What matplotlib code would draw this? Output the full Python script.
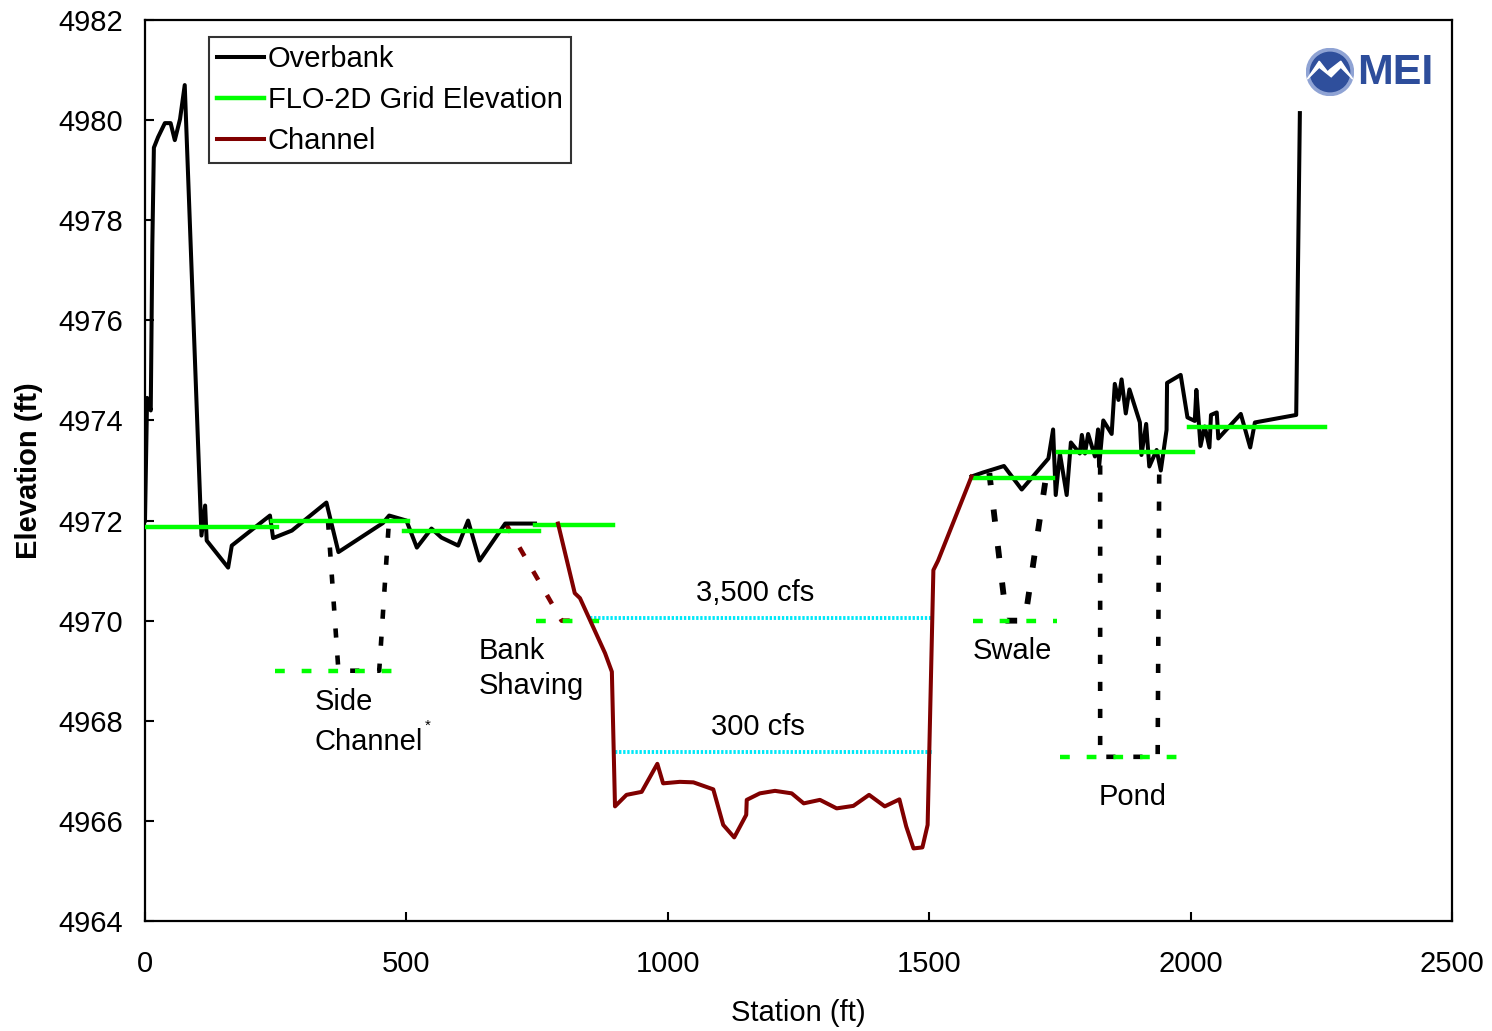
import numpy as np
import matplotlib
matplotlib.use('Agg')
import matplotlib.pyplot as plt
from matplotlib.patches import Circle, Polygon

plt.rcParams['font.family'] = ['Liberation Sans', 'DejaVu Sans']

# overbank (left of channel)
ob_left_st = [0, 4, 11, 14, 17, 25, 38, 49, 57, 67, 76, 108, 115, 118, 159, 166, 239, 245,
              281, 347, 370, 455, 467, 500, 520, 548, 567, 599, 618, 640, 689, 746]
ob_left_el = [4972.0, 4974.45, 4974.2, 4977.5, 4979.45, 4979.66, 4979.94, 4979.94, 4979.6, 4980.02,
              4980.7, 4971.7, 4972.3, 4971.6, 4971.06, 4971.5, 4972.1, 4971.65,
              4971.8, 4972.36, 4971.37, 4971.95, 4972.1, 4972.0, 4971.46, 4971.84, 4971.66,
              4971.5, 4972.0, 4971.2, 4971.94, 4971.94]

# overbank (right of channel)
ob_right_st = [1581, 1603, 1643, 1677, 1728, 1737, 1742, 1750, 1763, 1771, 1788, 1792, 1798, 1804,
               1817, 1823, 1825, 1833, 1849, 1855, 1862, 1868, 1876, 1883, 1903, 1906, 1915,
               1921, 1935, 1943, 1954, 1955, 1981, 1994, 2008, 2011, 2019, 2027, 2036, 2039,
               2050, 2053, 2096, 2114, 2123, 2202, 2209]
ob_right_el = [4972.88, 4972.96, 4973.09, 4972.62, 4973.24, 4973.82, 4972.51, 4973.34, 4972.51,
               4973.56, 4973.34, 4973.71, 4973.34, 4973.73, 4973.28, 4973.82, 4973.08, 4974.0,
               4973.73, 4974.73, 4974.41, 4974.82, 4974.14, 4974.62, 4973.96, 4973.31, 4973.93,
               4973.08, 4973.41, 4973.0, 4973.81, 4974.75, 4974.91, 4974.06, 4973.99, 4974.61,
               4973.49, 4973.88, 4973.46, 4974.11, 4974.16, 4973.64, 4974.13, 4973.46, 4973.96,
               4974.11, 4980.14]

# main channel
ch_st = [790, 822, 832, 880, 893, 899, 921, 950, 980, 991, 1023, 1049, 1087, 1106, 1127, 1150,
         1151, 1176, 1205, 1237, 1260, 1291, 1323, 1355, 1385, 1415, 1443, 1456, 1470, 1487,
         1497, 1508, 1517, 1581]
ch_el = [4971.94, 4970.55, 4970.45, 4969.35, 4968.98, 4966.29, 4966.52, 4966.58, 4967.14,
         4966.75, 4966.78, 4966.77, 4966.63, 4965.92, 4965.67, 4966.12, 4966.42, 4966.55,
         4966.6, 4966.55, 4966.35, 4966.42, 4966.25, 4966.3, 4966.52, 4966.29, 4966.43,
         4965.89, 4965.45, 4965.47, 4965.92, 4971.01, 4971.2, 4972.88]

# FLO-2D grid elevations
grid_x0 = [0, 242, 495, 746, 1581, 1747, 1997]
grid_x1 = [252, 504, 754, 895, 1736, 2005, 2257]
grid_z = [4971.88, 4972.0, 4971.79, 4971.91, 4972.86, 4973.36, 4973.86]

# modified grid elevations (dashed)
mod_x0 = [249, 748, 1584, 1750]
mod_x1 = [478, 874, 1744, 1981]
mod_z = [4969.0, 4970.0, 4970.0, 4967.28]

# side channel / swale / pond outlines
side_st = [350, 370, 448, 467]
side_el = [4972.0, 4969.0, 4969.0, 4972.05]
swale_st = [1615, 1648, 1683, 1728]
swale_el = [4972.95, 4970.0, 4970.0, 4973.2]
pond_st = [1827, 1827, 1937, 1940]
pond_el = [4973.1, 4967.28, 4967.28, 4973.0]
shave_st = [690, 797, 842]
shave_el = [4971.94, 4970.0, 4970.0]

# water surfaces
ws_x0 = [851, 899]
ws_x1 = [1505, 1505]
ws_z = [4970.05, 4967.38]
ws_lab = ['3,500 cfs', '300 cfs']
ws_lab_x = [1167, 1172]

fig = plt.figure(figsize=(14.92, 10.31), dpi=100)
ax = fig.add_axes([145/1492, 1 - 921/1031, 1307/1492, 901/1031])

fs = 21
green = '#00ff00'
red = '#800000'

ax.plot(ob_left_st, ob_left_el, color='black', lw=2.9, zorder=3, label='Overbank')
ax.plot(ob_right_st, ob_right_el, color='black', lw=2.9, zorder=3)

for i in range(len(grid_z)):
    ax.plot([grid_x0[i], grid_x1[i]], [grid_z[i], grid_z[i]], color=green, lw=3.2, zorder=4,
            label='FLO-2D Grid Elevation' if i == 0 else None)

ax.plot(ch_st, ch_el, color=red, lw=2.9, zorder=5, label='Channel')

ax.plot(side_st, side_el, color='black', lw=3.3, ls=(0, (2.0, 3.9)), zorder=2)
ax.plot(pond_st, pond_el, color='black', lw=3.3, ls=(0, (2.0, 3.9)), zorder=2)
ax.plot(swale_st, swale_el, color='black', lw=4.2, ls=(0, (2.1, 4.2)), zorder=2)
ax.plot(shave_st, shave_el, color=red, lw=3.3, ls=(0, (2.2, 3.8)), zorder=2)

for i in range(len(mod_z)):
    ax.plot([mod_x0[i], mod_x1[i]], [mod_z[i], mod_z[i]], color=green, lw=3.2,
            ls=(0, (2.2, 3.8)), zorder=4)

for i in range(len(ws_z)):
    ax.plot([ws_x0[i], ws_x1[i]], [ws_z[i], ws_z[i]], color='#00e8f8', lw=2.8,
            ls=(0, (0.6, 0.45)), zorder=3)
    ax.text(ws_lab_x[i], ws_z[i] + 0.5, ws_lab[i], fontsize=fs, ha='center', va='center')

ax.text(325, 4968.38, 'Side', fontsize=fs, va='center')
ax.text(325, 4967.58, 'Channel', fontsize=fs, va='center')
ax.text(535, 4967.9, '*', fontsize=11, va='center')
ax.text(639, 4969.4, 'Bank', fontsize=fs, va='center')
ax.text(639, 4968.7, 'Shaving', fontsize=fs, va='center')
ax.text(1584, 4969.4, 'Swale', fontsize=fs, va='center')
ax.text(1825, 4966.48, 'Pond', fontsize=fs, va='center')

ax.set_xlim(0, 2500)
ax.set_ylim(4964, 4982)
ax.set_xticks(np.arange(0, 2501, 500))
ax.set_yticks(np.arange(4964, 4983, 2))
ax.tick_params(direction='in', length=6.5, width=1.5, labelsize=fs)
ax.tick_params(axis='y', pad=16)
ax.tick_params(axis='x', pad=21)
for s in ax.spines.values():
    s.set_linewidth(1.6)

ax.set_xlabel('Station (ft)', fontsize=fs, labelpad=15)
ax.set_ylabel('Elevation (ft)', fontsize=fs, fontweight='bold', labelpad=11)

leg = ax.legend(loc='upper left', bbox_to_anchor=(0.049, 0.981), borderaxespad=0,
                fontsize=fs, frameon=True, fancybox=False, edgecolor='black',
                handlelength=1.6, handletextpad=0.15, labelspacing=0.45, borderpad=0.27)
leg.get_frame().set_linewidth(1.5)

# MEI logo
lax = fig.add_axes([1306/1492, 1 - 96/1031, 48/1492, 48/1031])
lax.set_xlim(-1, 1)
lax.set_ylim(-1, 1)
lax.set_aspect('equal')
lax.axis('off')
lax.add_patch(Circle((0, 0), 0.98, color='#8fa3d4'))
lax.add_patch(Circle((0, 0), 0.82, color='#2f4f9c'))
lax.add_patch(Polygon([[-0.95, -0.3], [-0.45, 0.45], [-0.1, 0.0], [0.0, 0.1], [0.45, 0.45],
                       [0.95, -0.3], [0.45, 0.2], [0.05, -0.2], [-0.45, 0.2]],
                      closed=True, color='white'))
fig.text(1357/1492, 1 - 73/1031, 'MEI', fontsize=31, fontweight='bold', color='#2d4d9b',
         va='center', ha='left')

fig.savefig('out.png', dpi=100)
